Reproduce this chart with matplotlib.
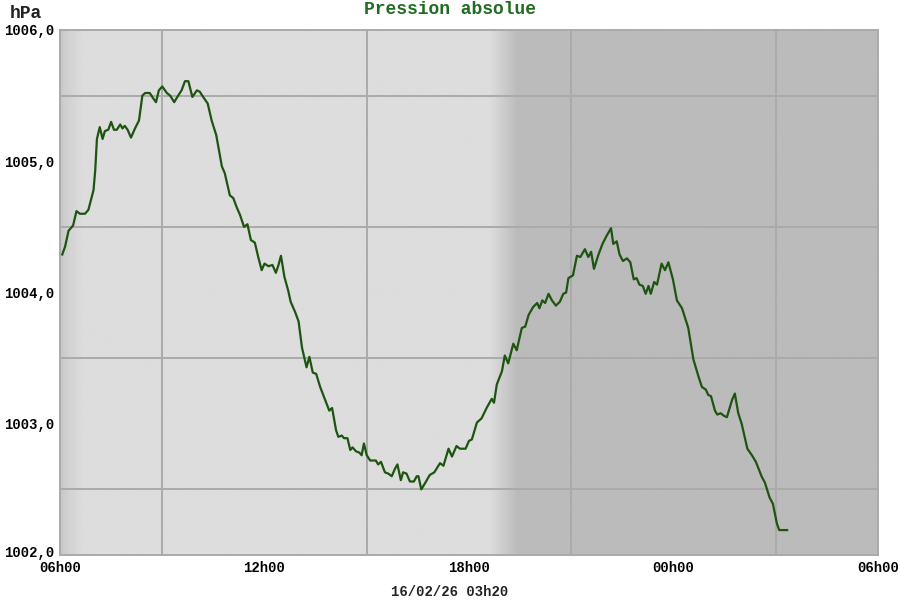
import matplotlib
matplotlib.use('Agg')
import matplotlib.pyplot as plt
import matplotlib.transforms as mtransforms
import numpy as np

# minutes after 06h00 (16/02 -> 17/02) and absolute pressure in hPa
minutes = [4, 9, 15, 23, 29, 35, 44, 50, 59, 62, 65, 70, 75, 79, 85, 90, 95, 100,
           106, 110, 114, 119, 125, 132, 139, 145, 150, 158, 164, 169, 174, 180,
           188, 194, 201, 208, 214, 220, 226, 233, 241, 246, 252, 260, 267, 275,
           285, 290, 299, 305, 311, 317, 324, 330, 336, 343, 349, 355, 360, 367,
           374, 380, 384, 389, 395, 402, 406, 414, 420, 426, 434, 439, 445, 451,
           458, 467, 474, 479, 486, 490, 496, 500, 506, 511, 515, 521, 527, 531,
           535, 540, 546, 556, 560, 565, 572, 578, 584, 590, 594, 600, 604, 610,
           616, 623, 628, 631, 636, 643, 651, 659, 669, 675, 684, 690, 698, 704,
           714, 720, 725, 734, 742, 751, 760, 764, 769, 778, 783, 789, 798, 804,
           813, 819, 825, 833, 840, 844, 849, 854, 860, 866, 873, 880, 886, 891,
           895, 903, 910, 916, 924, 930, 935, 940, 948, 955, 962, 970, 974, 980,
           985, 991, 998, 1004, 1010, 1015, 1020, 1026, 1031, 1036, 1040, 1046,
           1051, 1059, 1065, 1071, 1079, 1086, 1095, 1106, 1115, 1124, 1130, 1137,
           1141, 1146, 1153, 1157, 1163, 1169, 1174, 1183, 1188, 1194, 1200, 1210,
           1218, 1225, 1235, 1241, 1249, 1255, 1262, 1266, 1280]
pressure = [1004.29, 1004.35, 1004.47, 1004.51, 1004.62, 1004.60, 1004.60, 1004.63,
            1004.78, 1004.93, 1005.17, 1005.26, 1005.17, 1005.23, 1005.24, 1005.30,
            1005.24, 1005.24, 1005.28, 1005.25, 1005.27, 1005.24, 1005.18, 1005.25,
            1005.31, 1005.50, 1005.52, 1005.52, 1005.48, 1005.45, 1005.54, 1005.57,
            1005.52, 1005.50, 1005.45, 1005.50, 1005.54, 1005.61, 1005.61, 1005.49,
            1005.54, 1005.53, 1005.49, 1005.44, 1005.31, 1005.20, 1004.96, 1004.91,
            1004.74, 1004.72, 1004.65, 1004.59, 1004.50, 1004.52, 1004.40, 1004.38,
            1004.27, 1004.17, 1004.22, 1004.20, 1004.21, 1004.15, 1004.20, 1004.28,
            1004.12, 1004.01, 1003.93, 1003.85, 1003.78, 1003.58, 1003.43, 1003.51,
            1003.39, 1003.38, 1003.28, 1003.18, 1003.10, 1003.12, 1002.95, 1002.90,
            1002.91, 1002.89, 1002.89, 1002.80, 1002.82, 1002.79, 1002.78, 1002.76,
            1002.85, 1002.76, 1002.72, 1002.72, 1002.69, 1002.71, 1002.63, 1002.62,
            1002.60, 1002.66, 1002.69, 1002.57, 1002.63, 1002.62, 1002.56, 1002.56,
            1002.60, 1002.60, 1002.50, 1002.55, 1002.61, 1002.63, 1002.70, 1002.68,
            1002.81, 1002.75, 1002.83, 1002.81, 1002.81, 1002.87, 1002.88, 1003.01,
            1003.04, 1003.12, 1003.19, 1003.16, 1003.30, 1003.40, 1003.52, 1003.46,
            1003.61, 1003.56, 1003.73, 1003.74, 1003.83, 1003.89, 1003.92, 1003.88,
            1003.94, 1003.92, 1003.99, 1003.94, 1003.90, 1003.93, 1003.99, 1004.00,
            1004.11, 1004.13, 1004.28, 1004.27, 1004.33, 1004.27, 1004.31, 1004.18,
            1004.29, 1004.37, 1004.43, 1004.49, 1004.37, 1004.39, 1004.29, 1004.24,
            1004.26, 1004.23, 1004.10, 1004.11, 1004.06, 1004.05, 1003.99, 1004.05,
            1003.99, 1004.08, 1004.06, 1004.22, 1004.17, 1004.23, 1004.10, 1003.94,
            1003.88, 1003.73, 1003.49, 1003.36, 1003.28, 1003.26, 1003.22, 1003.21,
            1003.10, 1003.07, 1003.08, 1003.06, 1003.05, 1003.18, 1003.23, 1003.08,
            1003.00, 1002.81, 1002.76, 1002.71, 1002.60, 1002.55, 1002.44, 1002.39,
            1002.24, 1002.19, 1002.19]

xtick_pos = [0, 360, 720, 1080, 1440]
xtick_labels = ['06h00', '12h00', '18h00', '00h00', '06h00']
ytick_pos = [1002, 1003, 1004, 1005, 1006]
ytick_labels = ['1002,0', '1003,0', '1004,0', '1005,0', '1006,0']
title = 'Pression absolue'
unit = 'hPa'
stamp = '16/02/26 03h20'

mono = 'Liberation Mono'
grid_col = '#aaaaaa'

fig = plt.figure(figsize=(9, 6), dpi=100)
ax = fig.add_axes([60/900, 45/600, 818/900, 525/600])
ax.set_xlim(0, 1440)
ax.set_ylim(1002, 1006)

# background: day light grey, fade at the left edge, dusk fade into night grey
xs = np.linspace(0, 1440, 1441)
shade = np.full_like(xs, 0xdd / 255)
left = xs < 40
shade[left] = (0xc6 + (0xdd - 0xc6) * (xs[left] / 40) ** 0.7) / 255
dusk = (xs >= 757) & (xs < 806)
shade[dusk] = (0xdd - (0xdd - 0xbb) * (xs[dusk] - 757) / 49) / 255
shade[xs >= 806] = 0xbb / 255
bg = np.repeat(shade[None, :, None], 3, axis=2)
ax.imshow(bg, extent=[0, 1440, 1002, 1006], aspect='auto', zorder=0,
          interpolation='bilinear')

ax.set_xticks(np.arange(0, 1441, 180), minor=True)
ax.set_yticks(np.arange(1002, 1006.01, 0.5), minor=True)
ax.grid(which='minor', color=grid_col, linewidth=1.4, zorder=1)
ax.set_xticks(xtick_pos)
ax.set_xticklabels(xtick_labels)
ax.set_yticks(ytick_pos)
ax.set_yticklabels(ytick_labels)
ax.tick_params(which='both', length=0)
ax.tick_params(axis='x', pad=4)
ax.tick_params(axis='y', pad=4)
for lab in ax.get_xticklabels() + ax.get_yticklabels():
    lab.set_fontfamily(mono)
    lab.set_fontweight('bold')
    lab.set_fontsize(10)
for s in ax.spines.values():
    s.set_color(grid_col)
    s.set_linewidth(1.4)

# bottom y label sits a little above its line, as in the original
lowest = ax.get_yticklabels()[0]
lowest.set_transform(lowest.get_transform() +
                     mtransforms.ScaledTranslation(0, 3/100, fig.dpi_scale_trans))

ax.plot(minutes, pressure, color='#1c5410', linewidth=1.6, zorder=3)

fig.text(0.5, 1 - 10/600, title, ha='center', va='center', family=mono,
         fontweight='bold', fontsize=13, color='#226b22')
fig.text(10/900, 1 - 13/600, unit, ha='left', va='center', family=mono,
         fontweight='bold', fontsize=13, color='#222222')
fig.text(0.5, 1 - 592/600, stamp, ha='center', va='center', family=mono,
         fontweight='bold', fontsize=10, color='#222222')

fig.savefig('out.png', dpi=100)
